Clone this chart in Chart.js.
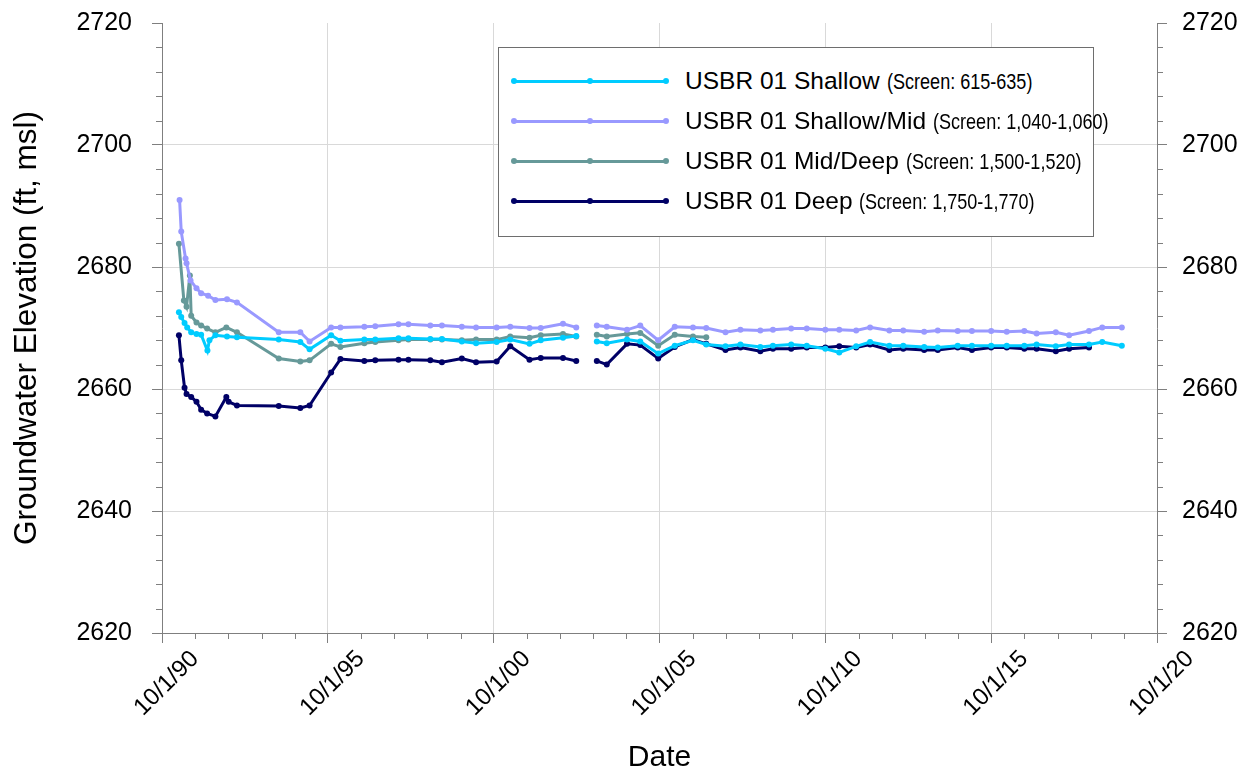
<!DOCTYPE html>
<html>
<head>
<meta charset="utf-8">
<script src="https://cdn.jsdelivr.net/npm/chart.js@4.4.1/dist/chart.umd.min.js"></script>
<style>
html, body { margin: 0; padding: 0; background: #fff; }
#wrap { position: relative; width: 1247px; height: 776px; }
#legend {
    position: absolute; left: 498px; top: 47px; width: 594px; height: 188px;
    border: 1px solid #6e6e6e; background: #fff;
    font-family: "Liberation Sans", Arial, sans-serif; color: #000;
}
.row { position: absolute; left: 0; width: 100%; height: 40px; white-space: nowrap; }
.sample { position: absolute; left: 15px; top: 18.5px; width: 152px; height: 3px; }
.dot { position: absolute; top: 17px; width: 6px; height: 6px; border-radius: 50%; }
.label { position: absolute; left: 186px; top: 0; line-height: 40px; font-size: 24.5px; }
.screen { display: inline-block; font-size: 22px; transform: scaleX(0.82); transform-origin: left center; }
</style>
</head>
<body>
<div id="wrap">
    <canvas id="levelsChart" width="1247" height="776"></canvas>
    <div id="legend"></div>
</div>
<script>
// Serie y rótulos
const seriesNames = ['USBR 01 Shallow', 'USBR 01 Shallow/Mid', 'USBR 01 Mid/Deep', 'USBR 01 Deep'];
const seriesScreens = ['(Screen: 615-635)', '(Screen: 1,040-1,060)', '(Screen: 1,500-1,520)', '(Screen: 1,750-1,770)'];
const seriesColors = ['#00ccff', '#9999ff', '#669999', '#000066'];

const xTickValues = [1990.75, 1995.75, 2000.75, 2005.75, 2010.75, 2015.75, 2020.75];
const xTickLabels = ['10/1/90', '10/1/95', '10/1/00', '10/1/05', '10/1/10', '10/1/15', '10/1/20'];
const gapYear = 2003.55; // sin mediciones entre 2003 y 2004

// Fechas en años decimales
const shallowYears = [1991.26, 1991.33, 1991.43, 1991.51, 1991.63, 1991.79, 1991.93, 1992.12, 1992.18, 1992.36, 1992.71, 1993.01,
    1994.27, 1994.92, 1995.20, 1995.85, 1996.13, 1996.85, 1997.18, 1997.88, 1998.18, 1998.84, 1999.19, 1999.79, 2000.22, 2000.84,
    2001.25, 2001.83, 2002.17, 2002.84, 2003.24, 2003.86, 2004.16, 2004.77, 2005.17, 2005.71, 2006.21, 2006.76, 2007.16, 2007.74,
    2008.19, 2008.79, 2009.17, 2009.72, 2010.19, 2010.75, 2011.17, 2011.68, 2012.10, 2012.68, 2013.10, 2013.73, 2014.14, 2014.74,
    2015.17, 2015.75, 2016.22, 2016.75, 2017.12, 2017.70, 2018.10, 2018.70, 2019.10, 2019.69];
const shallowLevels = [2672.6, 2671.8, 2670.8, 2670.1, 2669.3, 2669.0, 2668.9, 2666.3, 2668.0, 2668.8, 2668.6, 2668.5,
    2668.1, 2667.7, 2666.5, 2668.8, 2667.9, 2668.1, 2668.1, 2668.3, 2668.3, 2668.2, 2668.2, 2667.8, 2667.5, 2667.7,
    2668.1, 2667.4, 2668.0, 2668.4, 2668.7, 2667.8, 2667.5, 2668.1, 2667.8, 2665.8, 2667.1, 2668.0, 2667.3, 2667.0,
    2667.3, 2666.9, 2667.1, 2667.3, 2667.1, 2666.6, 2666.0, 2667.0, 2667.7, 2667.1, 2667.1, 2666.9, 2666.8, 2667.1,
    2667.1, 2667.1, 2667.1, 2667.1, 2667.3, 2667.0, 2667.3, 2667.3, 2667.7, 2667.1];

const shallowMidYears = [1991.28, 1991.33, 1991.46, 1991.49, 1991.61, 1991.79, 1991.93, 1992.14, 1992.36, 1992.71, 1993.01,
    1994.27, 1994.92, 1995.20, 1995.85, 1996.13, 1996.85, 1997.18, 1997.88, 1998.18, 1998.84, 1999.19, 1999.79, 2000.22, 2000.84,
    2001.25, 2001.83, 2002.17, 2002.84, 2003.24, 2003.86, 2004.16, 2004.77, 2005.17, 2005.71, 2006.21, 2006.76, 2007.16, 2007.74,
    2008.19, 2008.79, 2009.17, 2009.72, 2010.19, 2010.75, 2011.17, 2011.68, 2012.10, 2012.68, 2013.10, 2013.73, 2014.14, 2014.74,
    2015.17, 2015.75, 2016.22, 2016.75, 2017.12, 2017.70, 2018.10, 2018.70, 2019.10, 2019.69];
const shallowMidLevels = [2691.0, 2685.8, 2681.4, 2680.6, 2677.8, 2676.5, 2675.7, 2675.3, 2674.6, 2674.7, 2674.2,
    2669.3, 2669.3, 2667.8, 2670.1, 2670.1, 2670.2, 2670.3, 2670.6, 2670.6, 2670.4, 2670.4, 2670.2, 2670.1, 2670.1,
    2670.2, 2670.0, 2670.0, 2670.7, 2670.1, 2670.4, 2670.2, 2669.7, 2670.4, 2668.0, 2670.2, 2670.1, 2670.0, 2669.3,
    2669.7, 2669.6, 2669.7, 2669.9, 2669.9, 2669.7, 2669.7, 2669.6, 2670.1, 2669.6, 2669.6, 2669.4, 2669.6, 2669.5,
    2669.5, 2669.5, 2669.4, 2669.5, 2669.1, 2669.3, 2668.8, 2669.5, 2670.1, 2670.1];

const midDeepYears = [1991.26, 1991.41, 1991.49, 1991.59, 1991.63, 1991.79, 1991.93, 1992.11, 1992.36, 1992.69, 1993.01,
    1994.27, 1994.92, 1995.20, 1995.85, 1996.13, 1996.85, 1997.18, 1997.88, 1998.18, 1998.84, 1999.19, 1999.79, 2000.22, 2000.84,
    2001.25, 2001.83, 2002.17, 2002.84, 2003.24, 2003.86, 2004.16, 2004.77, 2005.17, 2005.71, 2006.21, 2006.76, 2007.16];
const midDeepLevels = [2683.8, 2674.5, 2673.5, 2678.6, 2672.0, 2670.9, 2670.4, 2669.9, 2669.3, 2670.1, 2669.3,
    2665.0, 2664.5, 2664.7, 2667.4, 2666.9, 2667.5, 2667.7, 2668.0, 2668.1, 2668.1, 2668.1, 2668.0, 2668.1, 2668.1,
    2668.6, 2668.4, 2668.8, 2669.0, 2668.6, 2668.9, 2668.6, 2669.0, 2669.2, 2667.1, 2668.9, 2668.6, 2668.5];

const deepYears = [1991.26, 1991.33, 1991.43, 1991.49, 1991.63, 1991.79, 1991.93, 1992.11, 1992.36, 1992.69, 1992.76, 1993.01,
    1994.27, 1994.92, 1995.20, 1995.85, 1996.13, 1996.85, 1997.18, 1997.88, 1998.18, 1998.84, 1999.19, 1999.79, 2000.22, 2000.84,
    2001.25, 2001.83, 2002.17, 2002.84, 2003.24, 2003.86, 2004.16, 2004.77, 2005.17, 2005.71, 2006.21, 2006.76, 2007.16, 2007.74,
    2008.19, 2008.79, 2009.17, 2009.72, 2010.19, 2010.75, 2011.17, 2011.68, 2012.10, 2012.68, 2013.10, 2013.73, 2014.14, 2014.74,
    2015.17, 2015.75, 2016.22, 2016.75, 2017.12, 2017.70, 2018.10, 2018.70];
const deepLevels = [2668.8, 2664.7, 2660.2, 2659.2, 2658.7, 2657.9, 2656.6, 2656.0, 2655.5, 2658.7, 2657.9, 2657.3,
    2657.2, 2656.9, 2657.3, 2662.7, 2664.9, 2664.6, 2664.7, 2664.8, 2664.8, 2664.7, 2664.4, 2665.0, 2664.4, 2664.5,
    2667.0, 2664.8, 2665.1, 2665.1, 2664.6, 2664.6, 2664.0, 2667.4, 2667.2, 2665.0, 2666.9, 2668.1, 2667.4, 2666.4,
    2666.8, 2666.2, 2666.6, 2666.6, 2666.8, 2666.8, 2667.0, 2666.8, 2667.3, 2666.4, 2666.6, 2666.4, 2666.4, 2666.8,
    2666.4, 2666.8, 2666.8, 2666.6, 2666.6, 2666.2, 2666.6, 2666.8];

// Une fechas y niveles, dejando un hueco en la pausa de mediciones
function buildPoints(years, levels) {
    const points = [];
    years.forEach((yr, i) => {
        if (i > 0 && years[i - 1] < gapYear && yr > gapYear) {
            points.push({ x: gapYear, y: null });
        }
        points.push({ x: yr, y: levels[i] });
    });
    return points;
}

const allSeries = [
    buildPoints(shallowYears, shallowLevels),
    buildPoints(shallowMidYears, shallowMidLevels),
    buildPoints(midDeepYears, midDeepLevels),
    buildPoints(deepYears, deepLevels)
];

const axisColor = '#7f7f7f';
const gridColor = '#d9d9d9';
const fontFamily = '"Liberation Sans", Arial, sans-serif';

// Marcas menores (un año en X, 4 pies en Y)
const minorTicks = {
    id: 'minorTicks',
    afterDraw(chart) {
        const { ctx } = chart;
        const x = chart.scales.x, y = chart.scales.y, y2 = chart.scales.y2;
        ctx.save();
        ctx.strokeStyle = axisColor;
        ctx.lineWidth = 1;
        ctx.beginPath();
        for (let yr = 1991.75; yr < 2020.75; yr += 1) {
            if ((yr - 1990.75) % 5 === 0) continue;
            const px = Math.round(x.getPixelForValue(yr)) + 0.5;
            ctx.moveTo(px, x.top);
            ctx.lineTo(px, x.top + 6);
        }
        for (let v = 2624; v < 2720; v += 4) {
            if (v % 20 === 0) continue;
            const py = Math.round(y.getPixelForValue(v)) + 0.5;
            ctx.moveTo(y.right - 6, py);
            ctx.lineTo(y.right, py);
            ctx.moveTo(y2.left, py);
            ctx.lineTo(y2.left + 6, py);
        }
        ctx.stroke();
        ctx.restore();
    }
};

const edgeGrid = (ctx) => (ctx.index === 0 || ctx.index === ctx.scale.ticks.length - 1) ? 'rgba(0,0,0,0)' : gridColor;

// Ancho fijo del eje vertical sin relleno extra arriba/abajo
function fitVertical(width) {
    return (scale) => {
        scale.width = width;
        scale.paddingTop = 0;
        scale.paddingBottom = 0;
    };
}

const ctx = document.getElementById('levelsChart').getContext('2d');
new Chart(ctx, {
    type: 'line',
    data: {
        datasets: allSeries.map((points, i) => ({
            label: seriesNames[i],
            data: points,
            borderColor: seriesColors[i],
            backgroundColor: seriesColors[i],
            borderWidth: 3,
            pointRadius: 3,
            pointBorderWidth: 0,
            tension: 0,
            fill: false,
            spanGaps: false
        }))
    },
    options: {
        responsive: false,
        animation: false,
        devicePixelRatio: 1,
        layout: { padding: { top: 23, left: 0, right: 0, bottom: 0 } },
        plugins: {
            legend: { display: false },
            tooltip: { enabled: false }
        },
        scales: {
            x: {
                type: 'linear',
                min: 1990.75,
                max: 2020.75,
                afterBuildTicks: (scale) => { scale.ticks = xTickValues.map(v => ({ value: v })); },
                afterFit: (scale) => { scale.height = 143; },
                ticks: {
                    autoSkip: false,
                    minRotation: 45,
                    maxRotation: 45,
                    labelOffset: 33,
                    padding: 2,
                    color: '#000',
                    font: { family: fontFamily, size: 24 },
                    callback: (value, index) => xTickLabels[index]
                },
                grid: { color: edgeGrid, tickColor: axisColor, tickLength: 10, lineWidth: 1 },
                border: { color: axisColor, width: 1 },
                title: {
                    display: true,
                    text: 'Date',
                    color: '#000',
                    font: { family: fontFamily, size: 30 },
                    padding: { top: 0, bottom: 0 }
                }
            },
            y: {
                position: 'left',
                min: 2620,
                max: 2720,
                afterFit: fitVertical(162),
                ticks: {
                    stepSize: 20,
                    padding: 20,
                    color: '#000',
                    font: { family: fontFamily, size: 25 },
                    callback: (value) => String(value)
                },
                grid: { color: edgeGrid, tickColor: axisColor, tickLength: 10, lineWidth: 1 },
                border: { color: axisColor, width: 1 },
                title: {
                    display: true,
                    text: 'Groundwater Elevation (ft, msl)',
                    color: '#000',
                    font: { family: fontFamily, size: 31.5 },
                    padding: { top: 8, bottom: 0 }
                }
            },
            y2: {
                position: 'right',
                min: 2620,
                max: 2720,
                afterFit: fitVertical(90),
                ticks: {
                    stepSize: 20,
                    padding: 15,
                    color: '#000',
                    font: { family: fontFamily, size: 25 },
                    callback: (value) => String(value)
                },
                grid: { drawOnChartArea: false, tickColor: axisColor, tickLength: 10 },
                border: { color: axisColor, width: 1 }
            }
        }
    },
    plugins: [minorTicks]
});

// Leyenda con muestra de línea y tres marcadores
const legendBox = document.getElementById('legend');
seriesNames.forEach((name, i) => {
    const row = document.createElement('div');
    row.className = 'row';
    row.style.top = (13 + i * 40) + 'px';
    let html = `<div class="sample" style="background:${seriesColors[i]}"></div>`;
    [12, 88, 164].forEach(left => {
        html += `<div class="dot" style="left:${left}px;background:${seriesColors[i]}"></div>`;
    });
    html += `<div class="label">${name} <span class="screen">${seriesScreens[i]}</span></div>`;
    row.innerHTML = html;
    legendBox.appendChild(row);
});
</script>
</body>
</html>
